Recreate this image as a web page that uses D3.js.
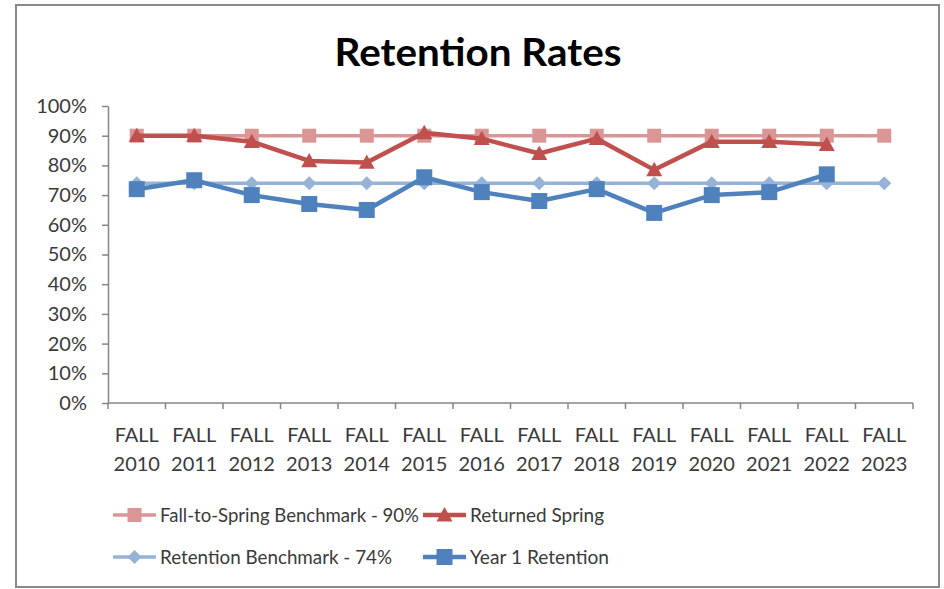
<!DOCTYPE html>
<html>
<head>
<meta charset="utf-8">
<script src="https://cdn.jsdelivr.net/npm/d3@7"></script>
<style>
  html, body { margin: 0; padding: 0; background: #fff; }
  svg { display: block; }
</style>
</head>
<body>
<svg id="chart" width="944" height="589"></svg>
<script>
// ---- Data ----
const categories = ["2010","2011","2012","2013","2014","2015","2016","2017","2018","2019","2020","2021","2022","2023"];
const categoryPrefix = "FALL";
const fallToSpringBenchmark = [0.90,0.90,0.90,0.90,0.90,0.90,0.90,0.90,0.90,0.90,0.90,0.90,0.90,0.90];
const returnedSpring = [0.90,0.90,0.88,0.815,0.81,0.91,0.89,0.84,0.89,0.785,0.88,0.88,0.87];
const retentionBenchmark = [0.74,0.74,0.74,0.74,0.74,0.74,0.74,0.74,0.74,0.74,0.74,0.74,0.74,0.74];
const year1Retention = [0.72,0.75,0.70,0.67,0.65,0.76,0.71,0.68,0.72,0.64,0.70,0.71,0.77];
const yTicks = [0,0.1,0.2,0.3,0.4,0.5,0.6,0.7,0.8,0.9,1.0];
const seriesNames = ["Fall-to-Spring Benchmark - 90%","Returned Spring","Retention Benchmark - 74%","Year 1 Retention"];
const titleText = "Retention Rates";

// ---- Setup ----
const svg = d3.select("#chart");
const font = "Lato, 'Open Sans', sans-serif";
const textColor = "#3a3a3a";
const axisColor = "#868686";

svg.append("rect").attr("x",0).attr("y",0).attr("width",944).attr("height",589).attr("fill","#fff");
svg.append("rect").attr("x",16).attr("y",5).attr("width",923).attr("height",582)
  .attr("fill","none").attr("stroke","#8a8a8a").attr("stroke-width",2);

svg.append("text").attr("x",478).attr("y",66).attr("text-anchor","middle")
  .attr("font-family",font).attr("font-weight","bold").attr("font-size",39)
  .attr("fill","#000").attr("textLength",287).attr("lengthAdjust","spacingAndGlyphs")
  .text(titleText);

const x = d3.scaleBand().domain(categories).range([108,913]).paddingInner(0).paddingOuter(0);
const y = d3.scaleLinear().domain([0,1]).range([403,106]);
const cx = d => x(d) + x.bandwidth()/2;

// Y axis
const yAxis = svg.append("g").attr("transform","translate(108,0)")
  .call(d3.axisLeft(y).tickValues(yTicks).tickFormat(d3.format(".0%")).tickSize(6).tickPadding(15).tickSizeOuter(0));
yAxis.select(".domain").attr("stroke",axisColor).attr("stroke-width",1.5);
yAxis.selectAll(".tick line").attr("stroke",axisColor).attr("stroke-width",1.5);
yAxis.selectAll(".tick text").attr("font-family",font).attr("font-size",20).attr("fill",textColor);

// X axis (ticks between categories)
const xAxisG = svg.append("g");
xAxisG.append("line").attr("x1",x.range()[0]).attr("x2",x.range()[1]).attr("y1",y(0)).attr("y2",y(0))
  .attr("stroke",axisColor).attr("stroke-width",1.5);
const boundaries = d3.range(categories.length+1).map(i => x.range()[0] + i*x.step());
xAxisG.selectAll("line.tk").data(boundaries).join("line").attr("class","tk")
  .attr("x1",d=>d).attr("x2",d=>d).attr("y1",y(0)).attr("y2",y(0)+6)
  .attr("stroke",axisColor).attr("stroke-width",1.5);
const xl = xAxisG.selectAll("text").data(categories).join("text")
  .attr("text-anchor","middle").attr("font-family",font).attr("font-size",20).attr("fill",textColor);
xl.append("tspan").attr("x",d=>cx(d)).attr("y",442).text(categoryPrefix);
xl.append("tspan").attr("x",d=>cx(d)).attr("y",471).text(d=>d);

// Series
const styles = [
  {color:"#da9694", width:3.5, marker:"square", size:14},
  {color:"#c0504d", width:4.5, marker:"triangle", size:16},
  {color:"#95b3d7", width:3.5, marker:"diamond", size:14},
  {color:"#4f81bd", width:4.5, marker:"square", size:16}
];
const seriesData = [fallToSpringBenchmark, returnedSpring, retentionBenchmark, year1Retention];

function markerPath(type, s) {
  const h = s/2;
  if (type === "square") return `M${-h},${-h}H${h}V${h}H${-h}Z`;
  if (type === "triangle") return `M0,${-h}L${h},${h*0.8}L${-h},${h*0.8}Z`;
  if (type === "diamond") return `M0,${-h}L${h},0L0,${h}L${-h},0Z`;
}

const line = d3.line().x((d,i)=>cx(categories[i])).y(d=>y(d));
seriesData.forEach((vals, si) => {
  const st = styles[si];
  const g = svg.append("g");
  g.append("path").datum(vals).attr("d",line).attr("fill","none")
    .attr("stroke",st.color).attr("stroke-width",st.width).attr("stroke-linejoin","round");
  g.selectAll("path.m").data(vals).join("path").attr("class","m")
    .attr("transform",(d,i)=>`translate(${cx(categories[i])},${y(d)})`)
    .attr("d",markerPath(st.marker, st.size)).attr("fill",st.color);
});

// Legend
const legendPos = [
  {lx:113, ly:515, tw:259}, {lx:423, ly:515, tw:134},
  {lx:113, ly:557, tw:232}, {lx:423, ly:557, tw:139}
];
seriesNames.forEach((name, si) => {
  const st = styles[si], p = legendPos[si];
  const g = svg.append("g");
  g.append("line").attr("x1",p.lx).attr("x2",p.lx+43).attr("y1",p.ly).attr("y2",p.ly)
    .attr("stroke",st.color).attr("stroke-width",st.width);
  g.append("path").attr("transform",`translate(${p.lx+21.5},${p.ly})`)
    .attr("d",markerPath(st.marker, st.size)).attr("fill",st.color);
  g.append("text").attr("x",p.lx+47).attr("y",p.ly+7).attr("font-family",font)
    .attr("font-size",19.5).attr("fill",textColor)
    .attr("textLength",p.tw).attr("lengthAdjust","spacingAndGlyphs").text(name);
});
</script>
</body>
</html>
